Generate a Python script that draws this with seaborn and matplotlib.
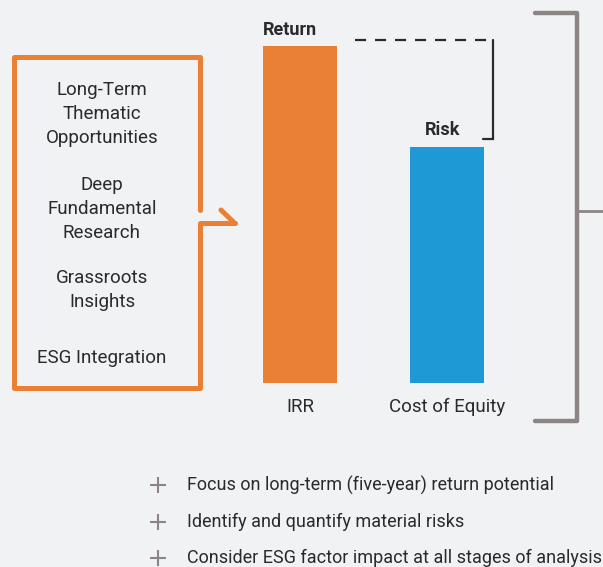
import matplotlib
matplotlib.use("Agg")
import matplotlib.pyplot as plt
import seaborn as sns

# ------------------------------
# Data
# ------------------------------
CATEGORIES = ["IRR", "Cost of Equity"]
VALUES = [10.0, 7.0]
BAR_TAGS = ["Return", "Risk"]
INPUTS = [
    "Long-Term\nThematic\nOpportunities",
    "Deep\nFundamental\nResearch",
    "Grassroots\nInsights",
    "ESG Integration",
]
BULLETS = [
    "Focus on long-term (five-year) return potential",
    "Identify and quantify material risks",
    "Consider ESG factor impact at all stages of analysis",
]

BG = "#f1f2f4"
ORANGE = "#e98036"
BLUE = "#1e99d6"
GREY = "#8b8685"
DARK = "#2a2a2c"
W, H = 603, 567

sns.set_theme(style="white")
plt.rcParams["font.family"] = ["Roboto", "DejaVu Sans"]

fig = plt.figure(figsize=(W / 100, H / 100), dpi=100)
fig.patch.set_facecolor(BG)

# ------------------------------
# Bars (seaborn)
# ------------------------------
# axes placed in pixel coords: x -0.5..1.5 spans 226.5..520.5 px, y 0..10 spans 383..46 px
ax = fig.add_axes([226.5 / W, (H - 383) / H, 294 / W, 337 / H])
ax.set_facecolor("none")
sns.barplot(x=CATEGORIES, y=VALUES, hue=CATEGORIES, palette=[ORANGE, BLUE],
            width=0.503, saturation=1, legend=False, linewidth=0,
            edgecolor="none", ax=ax)
ax.set_xlim(-0.5, 1.5)
ax.set_ylim(0, 10)
sns.despine(ax=ax, left=True, bottom=True)
ax.set_yticks([])
ax.set_ylabel("")
ax.tick_params(axis="x", length=0, pad=11, labelsize=13.5, labelcolor=DARK)

# tags above bars
ax.text(-0.252, VALUES[0] + 0.22, BAR_TAGS[0], ha="left", va="bottom",
        fontsize=13, fontweight="bold", color=DARK, clip_on=False)
ax.text(0.97, VALUES[1] + 0.25, BAR_TAGS[1], ha="center", va="bottom",
        fontsize=13, fontweight="bold", color=DARK, clip_on=False)

# dashed spread bracket between return and risk
y_top = VALUES[0] + 0.19
y_bot = VALUES[1] + 0.24
x_right = 1.31
ax.plot([0.375, x_right], [y_top, y_top], color=DARK, lw=1.6,
        dashes=(5, 4), clip_on=False, dash_capstyle="butt")
ax.plot([x_right, x_right, 1.245], [y_top, y_bot, y_bot], color=DARK, lw=1.6,
        clip_on=False, solid_joinstyle="miter")

# ------------------------------
# Overlay in pixel coords for the diagram elements
# ------------------------------
ov = fig.add_axes([0, 0, 1, 1], zorder=-1)
ov.set_xlim(0, W)
ov.set_ylim(H, 0)
ov.axis("off")
ov.set_facecolor("none")

# orange input box with arrow out of the right edge
ov.plot([200, 200, 14, 14, 200, 200, 235],
        [210, 57, 57, 388, 388, 223, 223],
        color=ORANGE, lw=3.6, solid_joinstyle="round", solid_capstyle="round")
ov.plot([221, 234], [210, 222.5], color=ORANGE, lw=3.6, solid_capstyle="round")

ys = [114, 209, 290, 358]
for label, y in zip(INPUTS, ys):
    ov.text(102, y, label, ha="center", va="center", fontsize=13.5,
            color=DARK, linespacing=1.4)

# grey bracket on the right
ov.plot([535, 577, 577, 535], [13, 13, 421, 421], color=GREY, lw=3.2,
        solid_joinstyle="round", solid_capstyle="round")
ov.plot([577, 603], [211, 211], color=GREY, lw=2.0)

# bullets
for i, txt in enumerate(BULLETS):
    y = 485 + i * 36.5
    ov.plot([158], [y], marker="+", ms=11, mew=1.5, color=GREY)
    ov.text(187, y, txt, ha="left", va="center", fontsize=13,
            color=DARK, clip_on=False)

fig.savefig("out.png", dpi=100, facecolor=BG)
